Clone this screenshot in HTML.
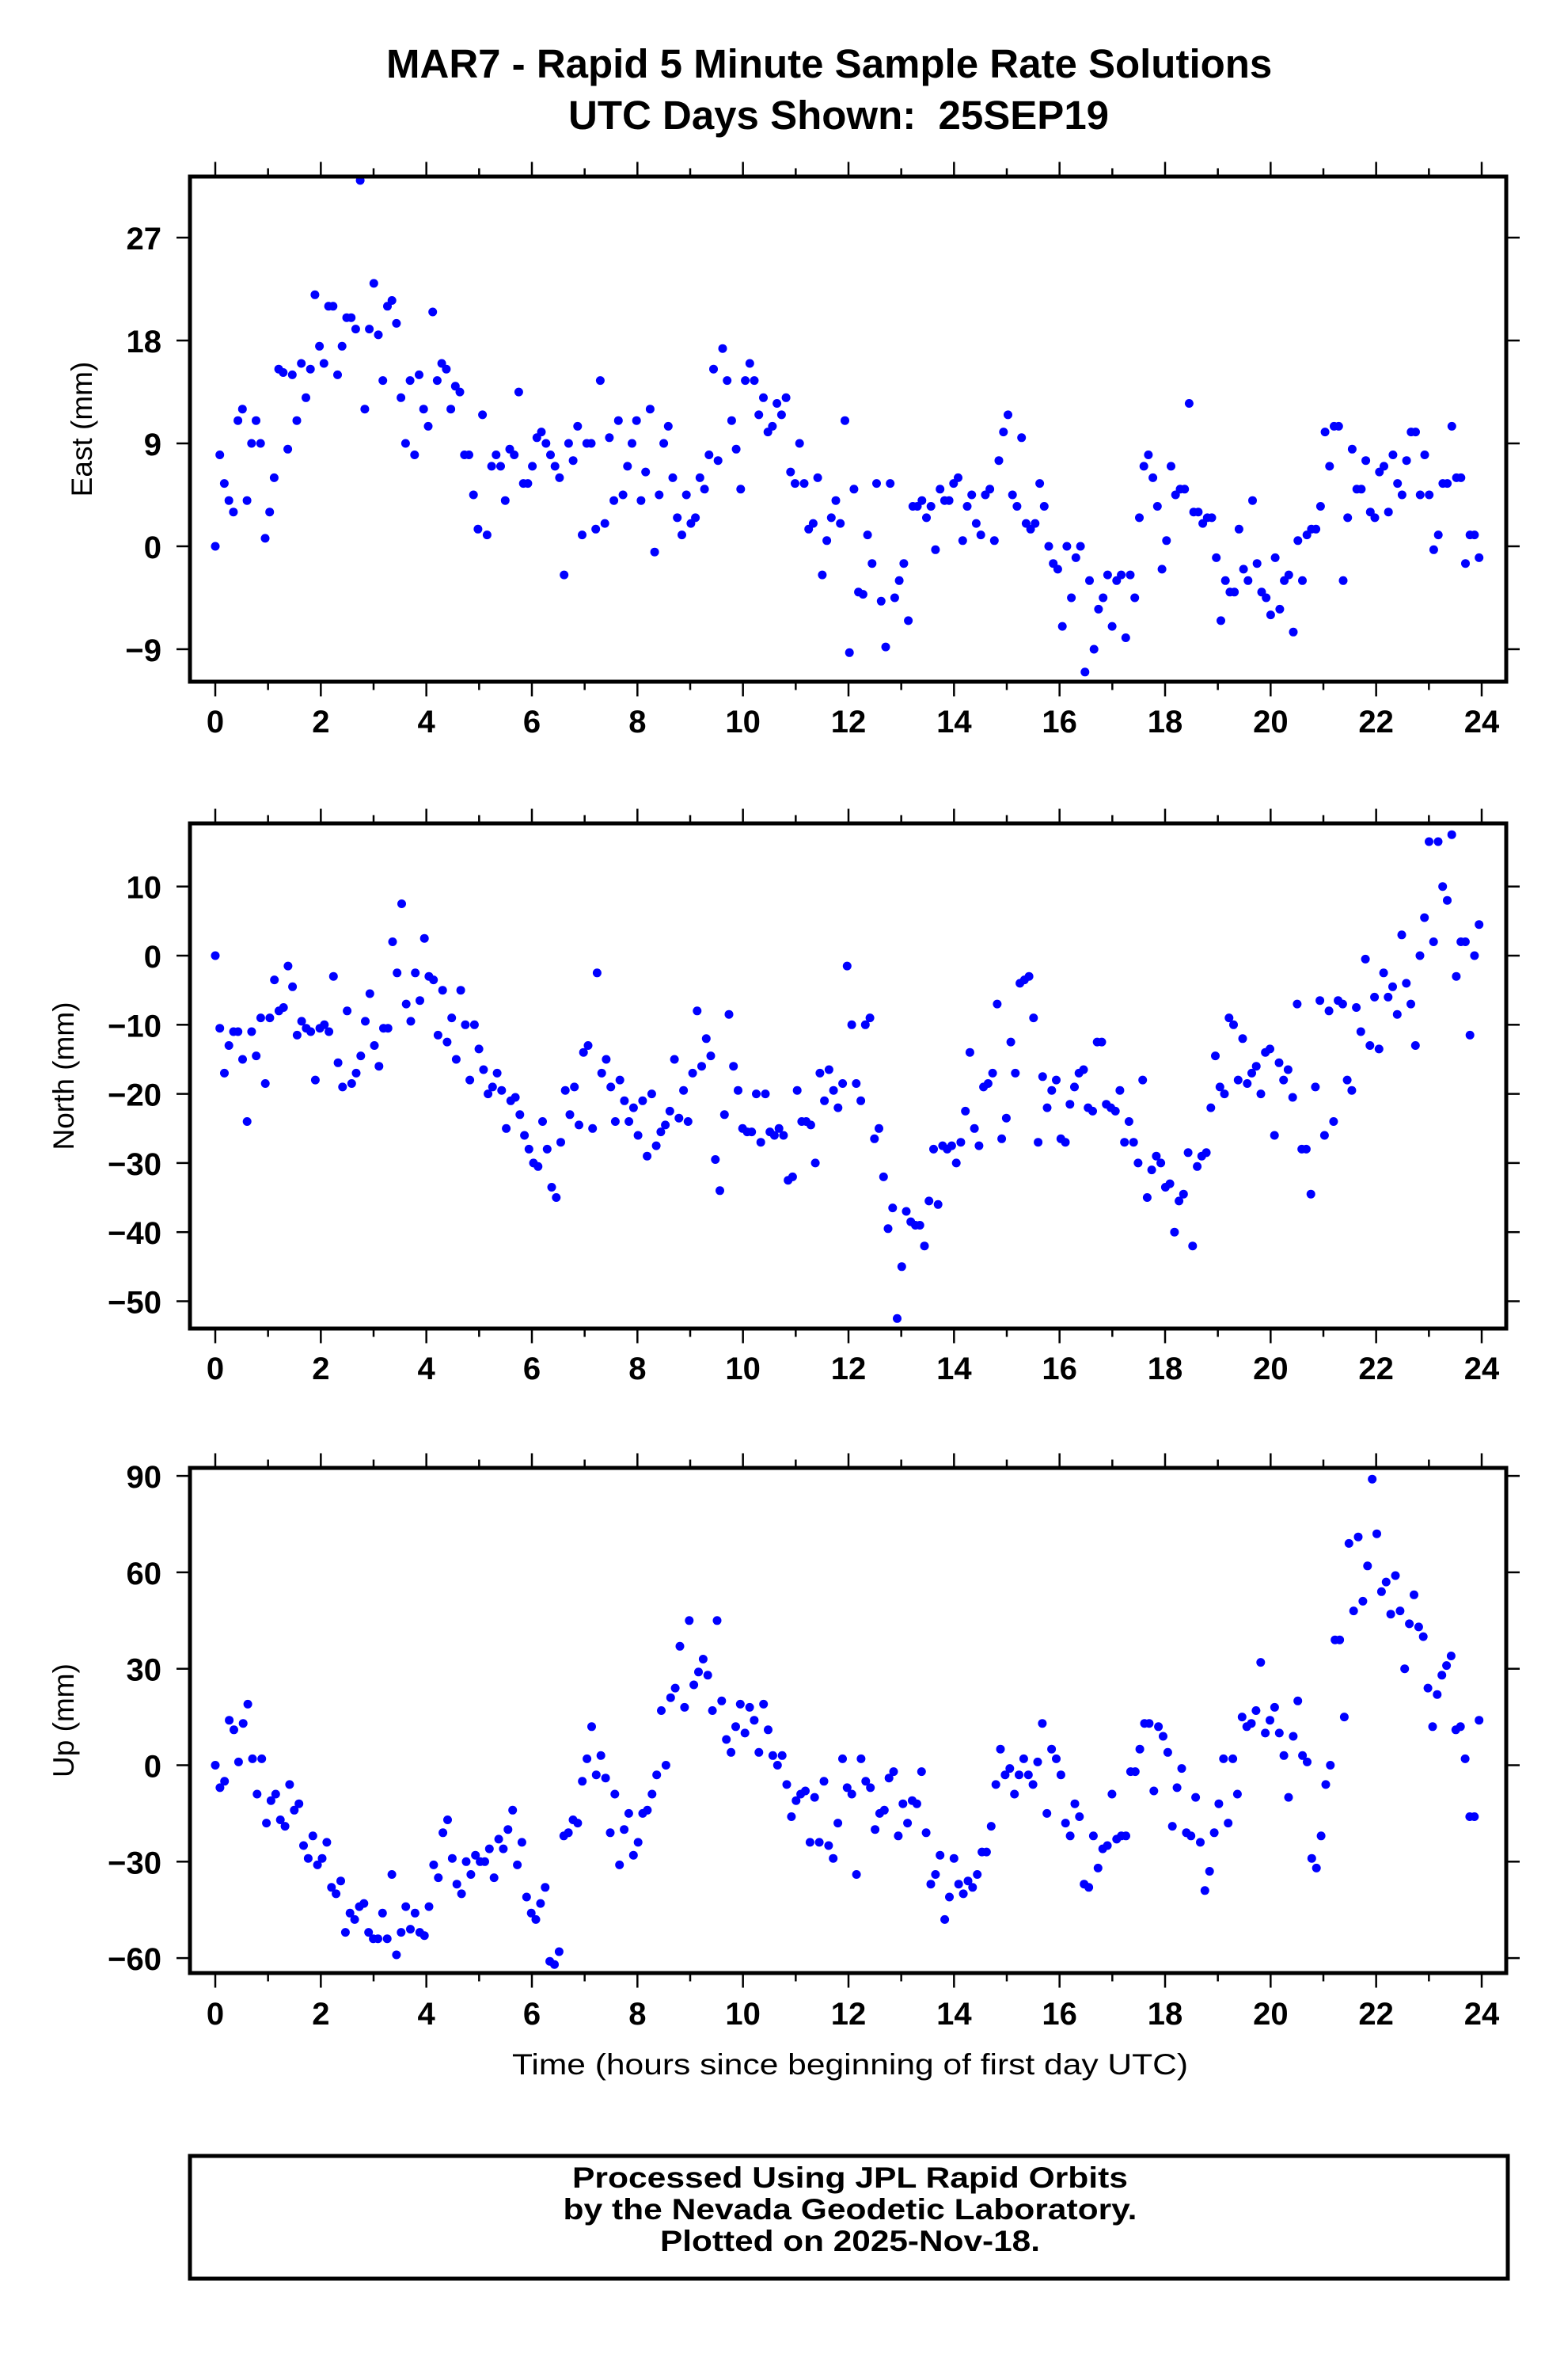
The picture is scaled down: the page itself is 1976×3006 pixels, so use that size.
<!DOCTYPE html>
<html><head><meta charset="utf-8"><style>
html,body{margin:0;padding:0;background:#fff;}
svg{display:block;font-family:"Liberation Sans",Arial,sans-serif;}
</style></head><body>
<svg id="chart" width="1976" height="3006" viewBox="0 0 1976 3006">
<text x="488" y="98" font-size="51" font-weight="bold">MAR7 - Rapid 5 Minute Sample Rate Solutions</text>
<text x="718" y="163" font-size="51" font-weight="bold" xml:space="preserve">UTC Days Shown:  25SEP19</text>
<g id="plots"></g>
<text x="1074" y="2620" text-anchor="middle" font-size="37" textLength="854" lengthAdjust="spacingAndGlyphs">Time (hours since beginning of first day UTC)</text>
<rect x="240" y="2723" width="1665" height="155" fill="none" stroke="#000" stroke-width="5"/>
<text x="1074" y="2763" text-anchor="middle" font-size="37" font-weight="bold" textLength="702" lengthAdjust="spacingAndGlyphs">Processed Using JPL Rapid Orbits</text>
<text x="1074" y="2803" text-anchor="middle" font-size="37" font-weight="bold" textLength="725" lengthAdjust="spacingAndGlyphs">by the Nevada Geodetic Laboratory.</text>
<text x="1074" y="2843" text-anchor="middle" font-size="37" font-weight="bold" textLength="480" lengthAdjust="spacingAndGlyphs">Plotted on 2025-Nov-18.</text>
</svg>
<script>
const xTicks = [0,2,4,6,8,10,12,14,16,18,20,22,24];
const eastTicks = [27,18,9,0,-9];
const northTicks = [10,0,-10,-20,-30,-40,-50];
const upTicks = [90,60,30,0,-30,-60];
const eastValues = [0,8,5.5,4,3,11,12,4,9,11,9,0.7,3,6,15.5,15.2,8.5,15,11,16,13,15.5,22,17.5,16,21,21,15,17.5,20,20,19,32,12,19,23,18.5,14.5,21,21.5,19.5,13,9,14.5,8,15,12,10.5,20.5,14.5,16,15.5,12,14,13.5,8,8,4.5,1.5,11.5,1,7,8,7,4,8.5,8,13.5,5.5,5.5,7,9.5,10,9,8,7,6,-2.5,9,7.5,10.5,1,9,9,1.5,14.5,2,9.5,4,11,4.5,7,9,11,4,6.5,12,-0.5,4.5,9,10.5,6,2.5,1,4.5,2,2.5,6,5,8,15.5,7.5,17.3,14.5,11,8.5,5,14.5,16,14.5,11.5,13,10,10.5,12.5,11.5,13,6.5,5.5,9,5.5,1.5,2,6,-2.5,0.5,2.5,4,2,11,-9.3,5,-4,-4.2,1,-1.5,5.5,-4.8,-8.8,5.5,-4.5,-3,-1.5,-6.5,3.5,3.5,4,2.5,3.5,-0.3,5,4,4,5.5,6,0.5,3.5,4.5,2,1,4.5,5,0.5,7.5,10,11.5,4.5,3.5,9.5,2,1.5,2,5.5,3.5,0,-1.5,-2,-7,0,-4.5,-1,0,-11,-3,-9,-5.5,-4.5,-2.5,-7,-3,-2.5,-8,-2.5,-4.5,2.5,7,8,6,3.5,-2,0.5,7,4.5,5,5,12.5,3,3,2,2.5,2.5,-1,-6.5,-3,-4,-4,1.5,-2,-3,4,-1.5,-4,-4.5,-6,-1,-5.5,-3,-2.5,-7.5,0.5,-3,1,1.5,1.5,3.5,10,7,10.5,10.5,-3,2.5,8.5,5,5,7.5,3,2.5,6.5,7,3,8,5.5,4.5,7.5,10,10,4.5,8,4.5,-0.3,1,5.5,5.5,10.5,6,6,-1.5,1,1,-1];
const northValues = [0,-10.5,-17,-13,-11,-11,-15,-24,-11,-14.5,-9,-18.5,-9,-3.5,-8,-7.5,-1.5,-4.5,-11.5,-9.5,-10.5,-11,-18,-10.5,-10,-11,-3,-15.5,-19,-8,-18.5,-17,-14.5,-9.5,-5.5,-13,-16,-10.5,-10.5,2,-2.5,7.5,-7,-9.5,-2.5,-6.5,2.5,-3,-3.5,-11.5,-5,-12.5,-9,-15,-5,-10,-18,-10,-13.5,-16.5,-20,-19,-17,-19.5,-25,-21,-20.5,-23,-26,-28,-30,-30.5,-24,-28,-33.5,-35,-27,-19.5,-23,-19,-24.5,-14,-13,-25,-2.5,-17,-15,-19,-24,-18,-21,-24,-22,-26,-21,-29,-20,-27.5,-25.5,-24.5,-22.5,-15,-23.5,-19.5,-24,-17,-8,-16,-12,-14.5,-29.5,-34,-23,-8.5,-16,-19.5,-25,-25.5,-25.5,-20,-27,-20,-25.5,-26,-25,-26,-32.5,-32,-19.5,-24,-24,-24.5,-30,-17,-21,-16.5,-19.5,-22,-18.5,-1.5,-10,-18.5,-21,-10,-9,-26.5,-25,-32,-39.5,-36.5,-52.5,-45,-37,-38.5,-39,-39,-42,-35.5,-28,-36,-27.5,-28,-27.5,-30,-27,-22.5,-14,-25,-27.5,-19,-18.5,-17,-7,-26.5,-23.5,-12.5,-17,-4,-3.5,-3,-9,-27,-17.5,-22,-19.5,-18,-26.5,-27,-21.5,-19,-17,-16.5,-22,-22.5,-12.5,-12.5,-21.5,-22,-22.5,-19.5,-27,-24,-27,-30,-18,-35,-31,-29,-30,-33.5,-33,-40,-35.5,-34.5,-28.5,-42,-30.5,-29,-28.5,-22,-14.5,-19,-20,-9,-10,-18,-12,-18.5,-17,-16,-20,-14,-13.5,-26,-15.5,-18,-16.5,-20.5,-7,-28,-28,-34.5,-19,-6.5,-26,-8,-24,-6.5,-7,-18,-19.5,-7.5,-11,-0.5,-13,-6,-13.5,-2.5,-6,-4.5,-8.5,3,-4,-7,-13,0,5.5,16.5,2,16.5,10,8,17.5,-3,2,2,-11.5,0,4.5];
const upValues = [0,-7,-5,14,11,1,13,19,2,-9,2,-18,-11,-9,-17,-19,-6,-14,-12,-25,-29,-22,-31,-29,-24,-38,-40,-36,-52,-46,-48,-44,-43,-52,-54,-54,-46,-54,-34,-59,-52,-44,-51,-46,-52,-53,-44,-31,-35,-21,-17,-29,-37,-40,-30,-34,-28,-30,-30,-26,-35,-23,-26,-20,-14,-31,-24,-41,-46,-48,-43,-38,-61,-62,-58,-22,-21,-17,-18,-5,2,12,-3,3,-4,-21,-9,-31,-20,-15,-28,-24,-15,-14,-9,-3,17,0,21,24,37,18,45,25,29,33,28,17,45,20,8,4,12,19,10,18,14,4,19,11,3,0,3,-6,-16,-11,-9,-8,-24,-10,-24,-5,-25,-29,-18,2,-7,-9,-34,2,-5,-7,-20,-15,-14,-4,-2,-22,-12,-18,-11,-12,-2,-21,-37,-34,-28,-48,-41,-29,-37,-40,-36,-38,-34,-27,-27,-19,-6,5,-3,-1,-9,-3,2,-3,-6,1,13,-15,5,2,-3,-18,-22,-12,-16,-37,-38,-22,-32,-26,-25,-9,-23,-22,-22,-2,-2,5,13,13,-8,12,9,4,-19,-7,-1,-21,-22,-10,-24,-39,-33,-21,-12,2,-18,2,-9,15,12,13,17,32,10,14,18,10,3,-10,9,20,3,1,-29,-32,-22,-6,0,39,39,15,69,48,71,51,62,89,72,54,57,47,59,48,30,44,53,43,40,24,12,22,28,31,34,11,12,2,-16,-16,14];

const NS='http://www.w3.org/2000/svg';
const plots=document.getElementById('plots');
const X0=272, X1=1872, BL=240, BR=1903;
function xScale(h){return X0+(h/24)*(X1-X0);}
function el(tag,attrs,parent){const e=document.createElementNS(NS,tag);for(const k in attrs)e.setAttribute(k,attrs[k]);(parent||plots).appendChild(e);return e;}

const panels=[
 {name:'east',title:'East (mm)',vals:eastValues,ticks:eastTicks,top:223,bot:861,zeroY:690,ppu:14.44,xlabY:925,titleX:116},
 {name:'north',title:'North (mm)',vals:northValues,ticks:northTicks,top:1040,bot:1678,zeroY:1207,ppu:8.73,xlabY:1742,titleX:93},
 {name:'up',title:'Up (mm)',vals:upValues,ticks:upTicks,top:1854,bot:2492,zeroY:2229.5,ppu:4.06,xlabY:2557,titleX:93}
];
panels.forEach(p=>{
  const g=el('g',{});
  
  
  const yScale=v=>p.zeroY-v*p.ppu;
  const pts=el('g',{fill:'#0000ff'},g);
  
  
  const n=p.vals.length;
  p.vals.forEach((v,i)=>{
    const h=i*23.95/(n-1);
    const c=el('circle',{cx:xScale(h).toFixed(1),cy:yScale(v).toFixed(1),r:5.5},pts);
    
    
  });
  const fr=el('rect',{x:BL,y:p.top,width:BR-BL,height:p.bot-p.top,fill:'none',stroke:'#000','stroke-width':5},g);
  
  
  for(let h=0;h<=24;h++){
    const x=xScale(h), len=(h%2===0)?16:8;
    el('line',{x1:x,x2:x,y1:p.top-2.5,y2:p.top-2.5-len,stroke:'#000','stroke-width':2.5},g);
    el('line',{x1:x,x2:x,y1:p.bot+2.5,y2:p.bot+2.5+len,stroke:'#000','stroke-width':2.5},g);
  }
  xTicks.forEach(h=>{
    const t=el('text',{x:xScale(h),y:p.xlabY,'text-anchor':'middle','font-size':40,'font-weight':'bold'},g);
    t.textContent=String(h);
    
    
  });
  p.ticks.forEach(v=>{
    const y=yScale(v);
    el('line',{x1:BL-2.5,x2:BL-17,y1:y,y2:y,stroke:'#000','stroke-width':2.5},g);
    el('line',{x1:BR+2.5,x2:BR+17,y1:y,y2:y,stroke:'#000','stroke-width':2.5},g);
    const t=el('text',{x:204,y:y+15,'text-anchor':'end','font-size':40,'font-weight':'bold'},g);
    t.textContent=(v<0?'\u2212'+(-v):String(v));
    
    
  });
  const cy=(p.top+p.bot)/2;
  const yt=el('text',{x:p.titleX,y:cy,'text-anchor':'middle','font-size':37,transform:'rotate(-90 '+p.titleX+' '+cy+')'},g);
  yt.textContent=p.title;
  
  
});
</script>
</body></html>
